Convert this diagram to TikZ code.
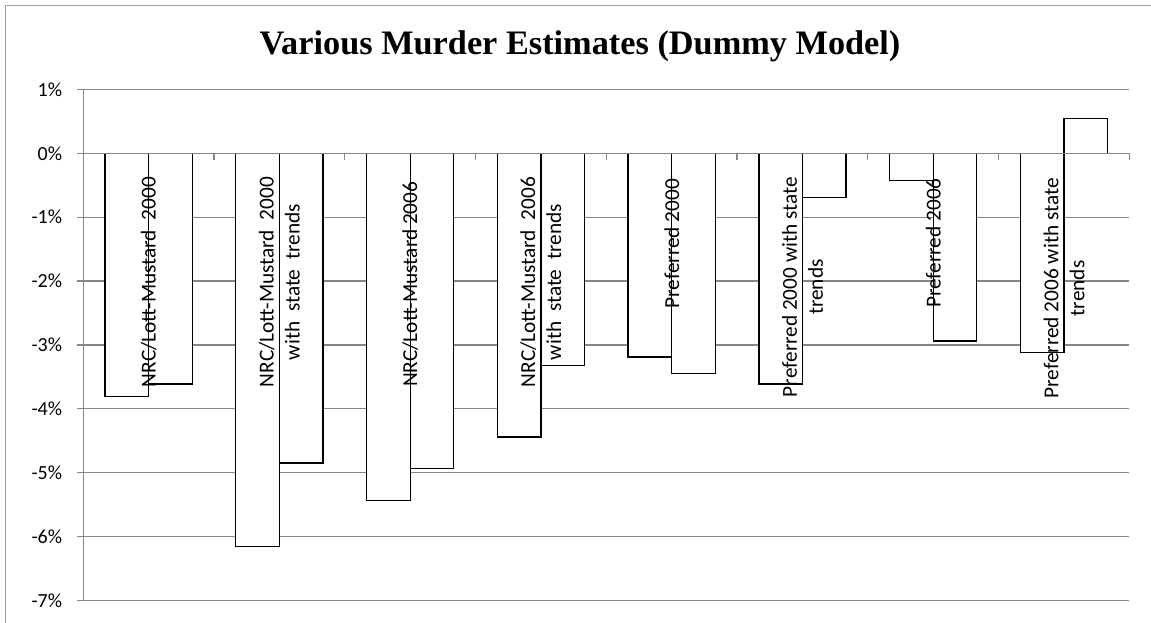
\documentclass[tikz,border=0pt]{standalone}
\usepackage{fontspec}
\setmainfont{Carlito}
\newfontfamily\titlefont{Liberation Serif}
\usepackage{tikz}
\definecolor{chart-grid}{RGB}{134,134,134}
\definecolor{chart-frame}{RGB}{160,160,160}

\begin{document}
\begin{tikzpicture}[x=1pt, y=-1pt,
		gridline/.style={draw=chart-grid, line width=1.3pt},
		barbox/.style={draw=black, fill=white, line width=1.3pt},
		catlabel/.style={rotate=90, anchor=east, inner sep=0pt, align=center, font=\fontsize{21.3}{26}\selectfont},
		axislabel/.style={anchor=east, inner sep=0pt, font=\fontsize{20}{24}\selectfont}]
		
		\useasboundingbox (0,0) rectangle (1151,623);
		
		% Draw the outer frame
		\draw[chart-frame, line width=1pt] (5.5,6) rectangle (1170,640);
		
		% Draw the title
		\node (title) [anchor=base, font=\titlefont\bfseries\fontsize{34.3}{40}\selectfont] at (580,55) {Various Murder Estimates (Dummy Model)};
		
		\begin{scope}[shift={(83.3pt,-153.3pt)}, x=130.75pt, y=63.875pt]
		
		% Draw the gridlines and the value labels
		\foreach \v in {-7,...,1} {
			\draw[gridline] (0,\v) -- (8,\v);
			\draw[gridline] (-0.05,\v) -- (0,\v);
			\node (ylab\v) [axislabel] at ([xshift=-21pt]0,\v) {\v\%};
		}
		
		% Draw the bars, two per estimate
		\foreach \k/\a/\b in {0/-3.81/-3.61, 1/-6.16/-4.85, 2/-5.44/-4.93, 3/-4.44/-3.32,
			4/-3.19/-3.45, 5/-3.61/-0.69, 6/-0.43/-2.94, 7/-3.12/0.54} {
			\draw[barbox] (\k+1/6,0) rectangle (\k+0.5,\a);
			\draw[barbox] (\k+0.5,0) rectangle (\k+5/6,\b);
		}
		
		% Draw the axes
		\draw[gridline] (0,1) -- (0,-7);
		\draw[gridline] (0,0) -- (8,0);
		\foreach \k in {1,...,8}
			\draw[gridline] (\k,0) -- ([yshift=-6.5pt]\k,0);
		
		% Add the estimate labels
		\node (est1) [catlabel] at (0.5,-0.37) {NRC/Lott-Mustard\ \ 2000};
		\node (est2) [catlabel] at (1.5,-0.37) {NRC/Lott-Mustard\ \ 2000\\with\ \ state\ \ trends};
		\node (est3) [catlabel] at (2.5,-0.44) {NRC/Lott-Mustard 2006};
		\node (est4) [catlabel] at (3.5,-0.37) {NRC/Lott-Mustard\ \ 2006\\with\ \ state\ \ trends};
		\node (est5) [catlabel] at (4.5,-0.40) {Preferred 2000};
		\node (est6) [catlabel] at (5.5,-0.37) {Preferred 2000 with state\\trends};
		\node (est7) [catlabel] at (6.5,-0.39) {Preferred 2006};
		\node (est8) [catlabel] at (7.5,-0.39) {Preferred 2006 with state\\trends};
		
		\end{scope}
\end{tikzpicture}
\end{document}
